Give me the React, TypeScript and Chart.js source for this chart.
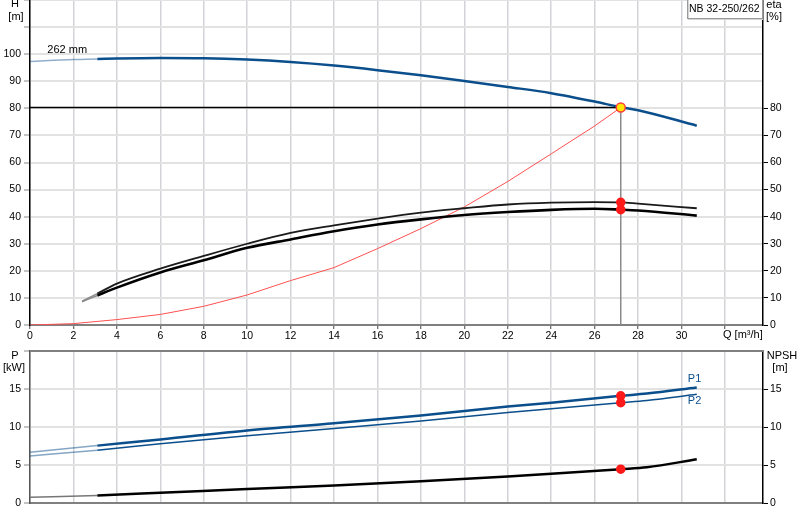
import { useEffect, useRef } from "react"
import { Chart, registerables } from "chart.js"

Chart.register(...registerables)

// axis ticks
const qTicks = [0, 2, 4, 6, 8, 10, 12, 14, 16, 18, 20, 22, 24, 26, 28, 30, 32]
const headTicks = [0, 10, 20, 30, 40, 50, 60, 70, 80, 90, 100, 110, 120]
const etaTicks = [0, 10, 20, 30, 40, 50, 60, 70, 80]
const powerTicks = [0, 5, 10, 15, 20]
const npshTicks = [0, 5, 10, 15]

// pump curve, impeller 262 mm (Q in m³/h, H in m)
const qHead = [0, 2, 3.1, 4, 6, 8, 10, 12, 14, 16, 18, 20, 22, 24, 26, 27.2, 28, 30.7]
const head = [97.3, 98.0, 98.2, 98.4, 98.6, 98.5, 98.0, 97.1, 95.8, 94.1, 92.2, 90.1, 87.9, 85.6, 82.5, 80.4, 79.3, 73.6]

// efficiencies (%)
const qEta = [2.4, 3.1, 4, 6, 8, 10, 12, 14, 16, 18, 20, 22, 24, 26, 27.2, 28, 30.7]
const etaPump = [8.8, 11.6, 15.3, 20.8, 25.5, 30.0, 34.0, 36.8, 39.3, 41.5, 43.1, 44.5, 45.2, 45.4, 45.3, 44.8, 43.1]
const etaTotal = [8.6, 10.9, 13.8, 19.4, 23.9, 28.5, 31.6, 34.6, 37.1, 39.0, 40.6, 41.7, 42.5, 42.9, 42.6, 42.3, 40.4]

// system curve (m)
const qSystem = [0, 2, 4, 6, 8, 10, 12, 14, 16, 18, 20, 22, 24, 26, 27.2]
const systemHead = [0, 0.5, 2.0, 3.9, 6.9, 11.1, 16.4, 21.2, 28.2, 35.6, 43.6, 53.0, 63.2, 73.5, 80.3]

// power (kW) and NPSH (m)
const qPower = [0, 3.1, 6, 10, 14, 18, 22, 24, 27.2, 28.4, 30.7]
const p1 = [6.67, 7.55, 8.35, 9.55, 10.5, 11.5, 12.7, 13.2, 14.1, 14.4, 15.2]
const p2 = [6.18, 6.95, 7.8, 8.85, 9.8, 10.8, 11.9, 12.4, 13.2, 13.5, 14.3]
const npsh = [0.75, 1.0, 1.35, 1.85, 2.3, 2.85, 3.5, 3.85, 4.45, 4.7, 5.75]

// duty point
const dutyQ = 27.2
const dutyHead = 80.3
const dutyEta = [45.3, 42.6]
const dutyPower = [14.1, 13.2, 4.45]

const FONT = "'Liberation Sans', Arial, sans-serif"
const BLUE = "#0b4e8c"
const FADED_BELOW = 3 // start of the curves is drawn thin and pale

const pts = (xs: number[], ys: number[]) => xs.map((x, i) => ({ x, y: ys[i] }))

function curve(label: string, xs: number[], ys: number[], color: string, width: number, faded: string) {
  return {
    label,
    data: pts(xs, ys),
    borderColor: color,
    borderWidth: width,
    pointRadius: 0,
    cubicInterpolationMode: "monotone",
    fill: false,
    segment: {
      borderColor: (c: any) => (c.p0.parsed.x < FADED_BELOW ? faded : undefined),
      borderWidth: (c: any) => (c.p0.parsed.x < FADED_BELOW ? 1.5 : undefined),
    },
  }
}

function dots(xs: number[], ys: number[], fill: string, stroke: string, r: number) {
  return {
    data: pts(xs, ys),
    showLine: false,
    pointRadius: r,
    pointBackgroundColor: fill,
    pointBorderColor: stroke,
    pointBorderWidth: 1.5,
  }
}

const tickFont = { family: FONT, size: 10.5 }

function xAxis(height: number, labels: boolean) {
  return {
    type: "linear",
    min: 0,
    max: 33.75,
    afterBuildTicks: (s: any) => {
      s.ticks = qTicks.map((v) => ({ value: v }))
    },
    afterFit: (s: any) => {
      s.height = height
      s.paddingLeft = 0
      s.paddingRight = 0
    },
    grid: { color: "#d2d3d6", lineWidth: 1.5, drawTicks: labels, tickLength: 4, tickColor: "#444", tickWidth: 1 },
    border: { color: "#808080", width: 2 },
    ticks: {
      display: labels,
      font: tickFont,
      color: "#000",
      padding: 1,
      maxRotation: 0,
      autoSkip: false,
      callback: (v: number) => (v === 32 ? "" : String(v)),
    },
  }
}

function yAxis(side: "left" | "right", max: number, ticks: number[], shownMax: number, width: number, borderColor: string) {
  const left = side === "left"
  return {
    position: side,
    min: 0,
    max,
    afterBuildTicks: (s: any) => {
      s.ticks = ticks.map((v) => ({ value: v }))
    },
    afterFit: (s: any) => {
      s.width = width
      s.paddingTop = 0
      s.paddingBottom = 0
    },
    grid: left
      ? { color: "#e2e2e2", lineWidth: 2, tickLength: 6, tickColor: "#888", tickWidth: 1 }
      : { drawOnChartArea: false, tickLength: 5, tickColor: "#000", tickWidth: 1 },
    border: { color: borderColor, width: 1.5 },
    ticks: {
      font: tickFont,
      color: "#000",
      padding: left ? 3 : 2,
      callback: (v: number) => (v <= shownMax ? String(v) : ""),
    },
  }
}

const topText = {
  id: "topText",
  afterDraw(chart: any) {
    const { ctx, scales } = chart
    ctx.save()
    ctx.font = `11px ${FONT}`
    ctx.fillStyle = "#000"
    ctx.textBaseline = "middle"
    ctx.textAlign = "center"
    ctx.fillText("H", 15, 4)
    ctx.fillText("[m]", 16, 17)
    ctx.fillText("eta", 774, 5)
    ctx.fillText("[%]", 774, 17)
    ctx.textAlign = "left"
    ctx.fillText("262 mm", scales.x.getPixelForValue(0.8), scales.y.getPixelForValue(101.4))
    ctx.fillText("Q [m³/h]", scales.x.getPixelForValue(32) - 2, 335)
    // type box
    ctx.fillStyle = "#fff"
    ctx.fillRect(687, -1, 76, 20)
    ctx.strokeStyle = "#d4d4d4"
    ctx.lineWidth = 1
    ctx.strokeRect(688.5, -1.5, 74, 21)
    ctx.strokeStyle = "#9a9a9a"
    ctx.strokeRect(687.5, -1.5, 75, 20)
    ctx.fillStyle = "#000"
    ctx.font = `10.5px ${FONT}`
    ctx.fillText("NB 32-250/262", 689, 9)
    ctx.restore()
  },
}

const bottomText = {
  id: "bottomText",
  afterDraw(chart: any) {
    const { ctx, chartArea, scales } = chart
    ctx.save()
    ctx.strokeStyle = "#808080"
    ctx.lineWidth = 2
    ctx.beginPath()
    ctx.moveTo(chartArea.left, chartArea.top)
    ctx.lineTo(chartArea.right, chartArea.top)
    ctx.stroke()
    ctx.font = `11px ${FONT}`
    ctx.fillStyle = "#000"
    ctx.textBaseline = "middle"
    ctx.textAlign = "center"
    ctx.fillText("P", 15, 10.5)
    ctx.fillText("[kW]", 14, 22.5)
    ctx.fillText("NPSH", 782, 10.5)
    ctx.fillText("[m]", 780, 22.5)
    ctx.fillStyle = BLUE
    const lx = scales.x.getPixelForValue(30.6)
    ctx.fillText("P1", lx, scales.y.getPixelForValue(16.3))
    ctx.fillText("P2", lx, scales.y.getPixelForValue(13.4))
    ctx.restore()
  },
}

export default function App() {
  const topRef = useRef<HTMLCanvasElement | null>(null)
  const bottomRef = useRef<HTMLCanvasElement | null>(null)

  useEffect(() => {
    if (!topRef.current || !bottomRef.current) return

    const top = new Chart(topRef.current, {
      type: "line",
      data: {
        datasets: [
          dots([dutyQ], [dutyHead], "#ffe600", "#ff3b3b", 4.5),
          dots([dutyQ, dutyQ], dutyEta, "#ff1a1a", "#ff1a1a", 4),
          curve("H", qHead, head, BLUE, 2.5, "rgba(11,78,140,0.45)"),
          curve("eta pump", qEta, etaPump, "#1a1a1a", 1.8, "#8a8a8a"),
          curve("eta total", qEta, etaTotal, "#000", 2.6, "#8a8a8a"),
          {
            // plotted as a plain polyline, like the original
            label: "system",
            data: pts(qSystem, systemHead),
            borderColor: "#ff5050",
            borderWidth: 1,
            pointRadius: 0,
          },
          {
            label: "duty head",
            data: [{ x: 0, y: dutyHead }, { x: dutyQ, y: dutyHead }],
            borderColor: "#000",
            borderWidth: 1.5,
            pointRadius: 0,
          },
          {
            label: "duty flow",
            data: [{ x: dutyQ, y: dutyHead }, { x: dutyQ, y: 0 }],
            borderColor: "#8a8a8a",
            borderWidth: 1.5,
            pointRadius: 0,
          },
        ],
      },
      options: {
        responsive: false,
        animation: false,
        layout: { padding: 0, autoPadding: false },
        plugins: { legend: { display: false }, tooltip: { enabled: false } },
        scales: {
          x: xAxis(20, true),
          y: yAxis("left", 120, headTicks, 100, 30, "#000"),
          eta: yAxis("right", 120, etaTicks, 80, 37, "#000"),
        },
      },
      plugins: [topText],
    } as any)

    const bottom = new Chart(bottomRef.current, {
      type: "line",
      data: {
        datasets: [
          dots([dutyQ, dutyQ, dutyQ], dutyPower, "#ff1a1a", "#ff1a1a", 4),
          curve("P1", qPower, p1, BLUE, 2.5, "rgba(11,78,140,0.5)"),
          curve("P2", qPower, p2, BLUE, 1.5, "rgba(11,78,140,0.5)"),
          curve("NPSH", qPower, npsh, "#000", 2.5, "#777"),
        ],
      },
      options: {
        responsive: false,
        animation: false,
        layout: { padding: { top: 6 }, autoPadding: false },
        plugins: { legend: { display: false }, tooltip: { enabled: false } },
        scales: {
          x: xAxis(17, false),
          y: yAxis("left", 20, powerTicks, 15, 30, "#555"),
          npsh: yAxis("right", 20, npshTicks, 15, 37, "#000"),
        },
      },
      plugins: [bottomText],
    } as any)

    return () => {
      top.destroy()
      bottom.destroy()
    }
  }, [])

  return (
    <div style={{ position: "absolute", left: 0, top: 0, width: 800, height: 520, background: "#fff" }}>
      <canvas ref={topRef} width={800} height={345} style={{ display: "block" }} />
      <canvas ref={bottomRef} width={800} height={175} style={{ display: "block" }} />
    </div>
  )
}
